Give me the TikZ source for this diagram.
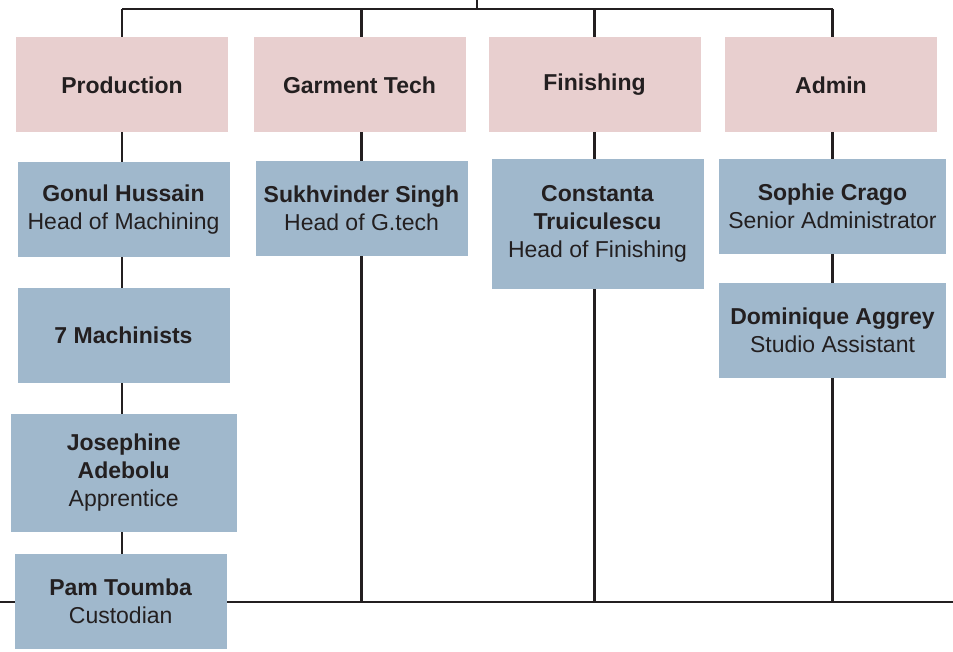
\documentclass[tikz,border=0pt]{standalone}
\usepackage{fontspec}
\setmainfont{Liberation Sans}
\usepackage{xcolor}
\usetikzlibrary{calc,backgrounds}
\definecolor{deptcolorc}{HTML}{E8CFCF}
\definecolor{staffcolorc}{HTML}{A0B8CC}
\definecolor{inkc}{HTML}{231F20}
\colorlet{deptcolor}{deptcolorc}
\colorlet{staffcolor}{staffcolorc}
\colorlet{ink}{inkc}
\tikzstyle{dept} =[
    fill=deptcolor,
    text=ink,
    font=\fontsize{23}{28}\selectfont\bfseries,
    minimum width=212pt,
    minimum height=95pt,
    inner sep=0pt
    ]
\tikzstyle{staff} = [
    fill=staffcolor,
    text=ink,
    font=\fontsize{23}{28}\selectfont,
    align=center,
    minimum width=212pt,
    minimum height=95pt,
    inner sep=0pt
    ]
\tikzstyle{link} = [
    draw=ink,
    line width=2.2pt
    ]

\begin{document}
\begin{tikzpicture}[x=1pt,y=-1pt]
\useasboundingbox (0,0) rectangle (953,652);
% top level
\coordinate (top) at (477,0);
\coordinate (bar) at (477,9);
% departments
\node [dept] (prod) at (122,85) {Production};
\node [dept] (gtech) at (359.5,85) {Garment Tech};
\node [dept] (fin) at (594.5,85) {Finishing};
\node [dept] (admin) at (831,85) {Admin};
% staff
\node [staff] (gonul) at (123.5,209.5) {\textbf{Gonul Hussain}\\Head of Machining};
\node [staff] (mach) at (123.5,335.5) {\textbf{7 Machinists}};
\node [staff, minimum width=226pt, minimum height=118pt] (jose) at (123.7,473)
    {\textbf{Josephine}\\\textbf{Adebolu}\\Apprentice};
\node [staff] (pam) at (120.7,601.5) {\textbf{Pam Toumba}\\Custodian};
\node [staff] (sukh) at (361.5,208.5) {\textbf{Sukhvinder Singh}\\Head of G.tech};
\node [staff, minimum height=130pt] (const) at (597.5,224)
    {\textbf{Constanta}\\\textbf{Truiculescu}\\Head of Finishing};
\node [staff, minimum width=227pt] (sophie) at (832.5,206.5) {\textbf{Sophie Crago}\\Senior Administrator};
\node [staff, minimum width=227pt] (dom) at (832.5,330.5) {\textbf{Dominique Aggrey}\\Studio Assistant};
% bottom line
\coordinate (left) at (0,602);
\coordinate (right) at (953,602);
% connectors behind the boxes
\begin{scope}[on background layer]
\draw [link] (top) -- (bar);
\draw [link] (prod |- bar) -- (sophie |- bar);
\draw [link] (prod |- bar) -- (prod |- pam.north);
\draw [link] (sukh |- bar) -- (sukh |- left);
\draw [link] (fin |- bar) -- (fin |- left);
\draw [link] (sophie |- bar) -- (sophie |- left);
\draw [link] (left) -- (right);
\end{scope}
\end{tikzpicture}
\end{document}
